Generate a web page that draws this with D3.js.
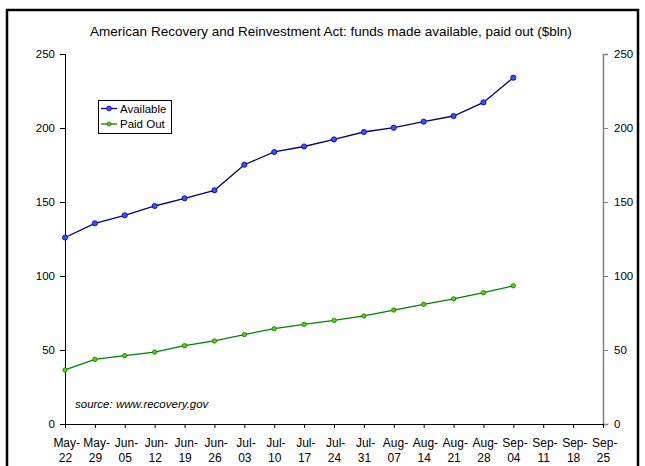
<!DOCTYPE html>
<html>
<head>
<meta charset="utf-8">
<script src="https://cdn.jsdelivr.net/npm/d3@7"></script>
<style>
  body { margin: 0; background: #fff; }
  text { font-family: "Liberation Sans", Arial, sans-serif; }
</style>
</head>
<body>
<div id="chart"></div>
<script>
var w = 645,
  h = 466;

// weekly dates (x categories)
var weeks = ["May-22", "May-29", "Jun-05", "Jun-12", "Jun-19", "Jun-26", "Jul-03", "Jul-10", "Jul-17",
  "Jul-24", "Jul-31", "Aug-07", "Aug-14", "Aug-21", "Aug-28", "Sep-04", "Sep-11", "Sep-18", "Sep-25"];

// $bln
var available = [126, 135.6, 141, 147.3, 152.5, 157.9, 175.2, 183.8, 187.5, 192.3, 197.3, 200.2, 204.3, 208.1, 217.3, 234];
var paidOut = [36.5, 43.7, 46.2, 48.6, 52.9, 56.1, 60.4, 64.4, 67.3, 70, 73, 77, 80.9, 84.5, 88.7, 93.4];

var yTicks = [0, 50, 100, 150, 200, 250];

var vis = d3.select("#chart").append("svg").attr("width", w).attr("height", h);

// outer frame
vis.append("rect").attr("x", 7).attr("y", 10).attr("width", 631).attr("height", 470)
  .attr("fill", "none").attr("stroke", "#000").attr("stroke-width", 2.5);

var plotLeft = 65, plotRight = 603, plotTop = 54, plotBottom = 424;

var x = d3.scalePoint().domain(weeks).range([plotLeft, plotRight]);
var y = d3.scaleLinear().domain([0, 250]).range([plotBottom, plotTop]);

vis.append("text").attr("x", 331).attr("y", 36).attr("text-anchor", "middle")
  .style("font-size", "13.5px").style("fill", "#000")
  .text("American Recovery and Reinvestment Act: funds made available, paid out ($bln)");

// left axis
var yl = vis.append("g").attr("transform", "translate(" + plotLeft + ",0)")
  .call(d3.axisLeft(y).tickValues(yTicks).tickSize(5).tickPadding(5));
yl.select(".domain").attr("stroke", "#000");
yl.selectAll("text").style("font-size", "11.5px").style("font-family", "Liberation Sans, Arial, sans-serif").style("fill", "#000");

// right axis
var yr = vis.append("g").attr("transform", "translate(" + plotRight + ",0)")
  .call(d3.axisRight(y).tickValues(yTicks).tickSize(5).tickPadding(6));
yr.select(".domain").attr("stroke", "#808080").attr("stroke-width", 1.5);
yr.selectAll(".tick line").attr("stroke", "#808080");
yr.selectAll("text").style("font-size", "11.5px").style("font-family", "Liberation Sans, Arial, sans-serif").style("fill", "#000");

// x axis
var xa = vis.append("g").attr("transform", "translate(0," + plotBottom + ")")
  .call(d3.axisBottom(x).tickSize(4).tickSizeOuter(0).tickPadding(10));
xa.select(".domain").attr("stroke", "#000");
xa.selectAll("text").style("font-size", "12px").style("font-family", "Liberation Sans, Arial, sans-serif").style("fill", "#000")
  .each(function(d) {
    var parts = d.split("-");
    var t = d3.select(this).text(null);
    t.append("tspan").attr("x", 0).attr("dx", "0.1em").text(parts[0] + "-");
    t.append("tspan").attr("x", 0).attr("dy", "1.25em").text(parts[1]);
  });

var line = d3.line().x(function(d, i) { return x(weeks[i]); }).y(function(d) { return y(d); });

vis.append("path").datum(paidOut).attr("d", line).attr("fill", "none").attr("stroke", "#008000").attr("stroke-width", 1.3);
vis.selectAll(".pdot").data(paidOut).enter().append("circle").attr("class", "pdot")
  .attr("cx", function(d, i) { return x(weeks[i]); }).attr("cy", function(d) { return y(d); })
  .attr("r", 2.2).attr("fill", "#66cc00").attr("stroke", "#008000").attr("stroke-width", 0.8);

vis.append("path").datum(available).attr("d", line).attr("fill", "none").attr("stroke", "#000080").attr("stroke-width", 1.3);
vis.selectAll(".adot").data(available).enter().append("circle").attr("class", "adot")
  .attr("cx", function(d, i) { return x(weeks[i]); }).attr("cy", function(d) { return y(d); })
  .attr("r", 2.6).attr("fill", "#3355ff").attr("stroke", "#000080").attr("stroke-width", 0.8);

// legend
var lg = vis.append("g");
lg.append("rect").attr("x", 98.5).attr("y", 100.5).attr("width", 73).attr("height", 33)
  .attr("fill", "#fff").attr("stroke", "#000").attr("stroke-width", 1);
var entries = [
  { name: "Available", stroke: "#000080", fill: "#3355ff", r: 2.4 },
  { name: "Paid Out", stroke: "#008000", fill: "#66cc00", r: 2 }
];
entries.forEach(function(e, i) {
  var cy = 108.5 + i * 15.5;
  lg.append("line").attr("x1", 101).attr("x2", 117).attr("y1", cy).attr("y2", cy)
    .attr("stroke", e.stroke).attr("stroke-width", 1.3);
  lg.append("circle").attr("cx", 109).attr("cy", cy).attr("r", e.r)
    .attr("fill", e.fill).attr("stroke", e.stroke).attr("stroke-width", 0.8);
  lg.append("text").attr("x", 120).attr("y", cy + 4).style("font-size", "11.5px").style("fill", "#000").text(e.name);
});

vis.append("text").attr("x", 75).attr("y", 408).style("font-size", "11.5px").style("font-style", "italic")
  .style("fill", "#000").text("source: www.recovery.gov");
</script>
</body>
</html>
